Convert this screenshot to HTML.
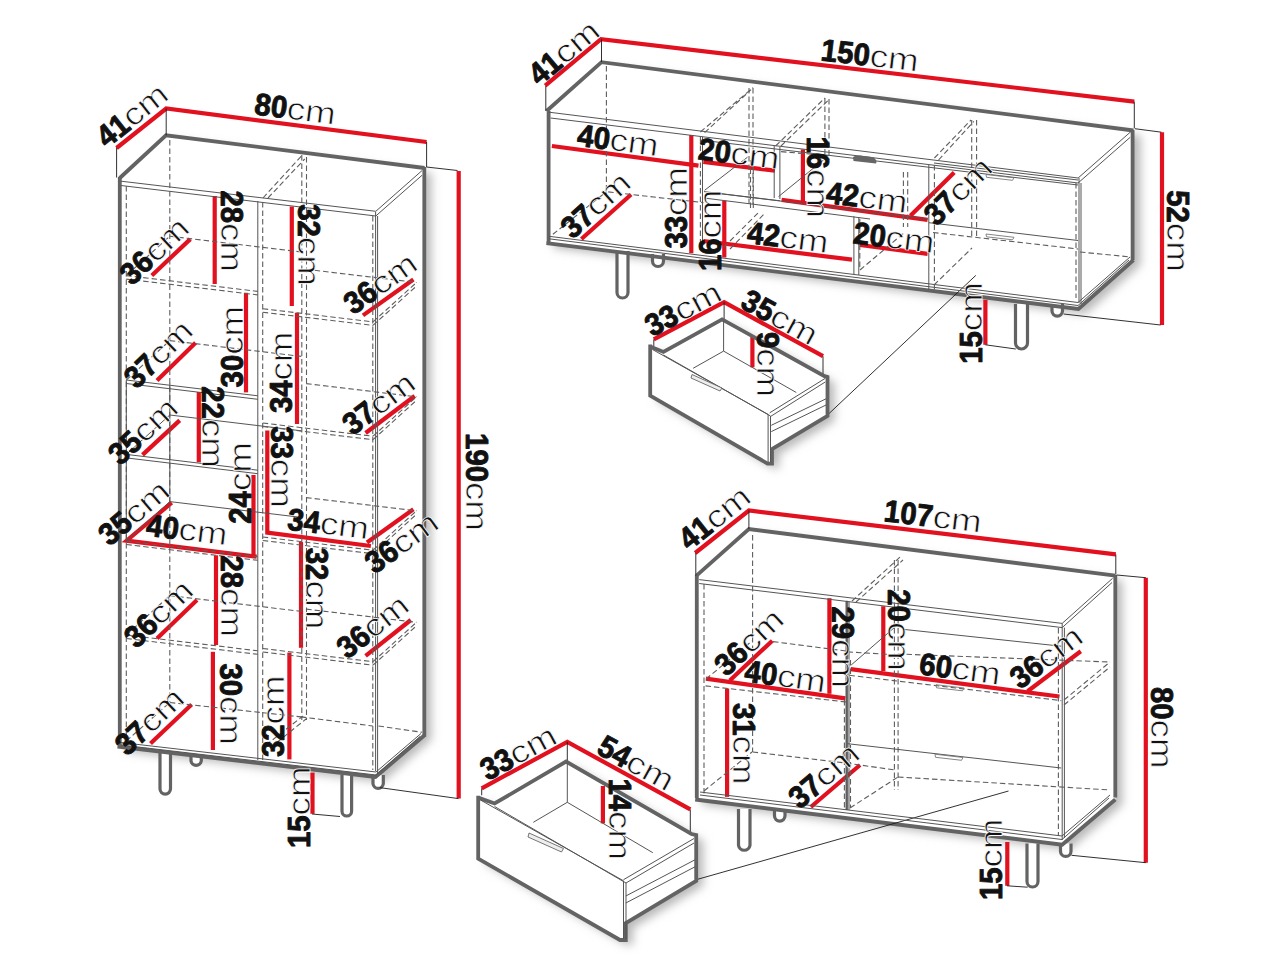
<!DOCTYPE html>
<html><head><meta charset="utf-8"><style>
html,body{margin:0;padding:0;background:#fff;width:1280px;height:960px;overflow:hidden}
svg{display:block}
text{font-family:"Liberation Sans",sans-serif;fill:#111}
.dg{stroke:#111;stroke-width:0.9;stroke-linejoin:round}
.cm{stroke:#fff;stroke-width:0.7}
.r{stroke:#e2111f;stroke-width:4.2;fill:none}
.g{stroke:#636363;stroke-width:3.8;fill:none;stroke-linejoin:miter}
.k{stroke:#1a1a1a;stroke-width:0.9;fill:none}
.t{stroke:#555;stroke-width:1;fill:none}
.d{stroke:#5e5e5e;stroke-width:1.1;stroke-dasharray:5.5 3;fill:none}
.g2{stroke:#6a6a6a;stroke-width:2.3;fill:none}
.lg{stroke:#636363;stroke-width:3.2;fill:#fff}
</style></head><body>
<svg width="1280" height="960" viewBox="0 0 1280 960">
<defs><filter id="bl" x="-20%" y="-20%" width="140%" height="140%"><feGaussianBlur stdDeviation="5"/></filter></defs>
<g filter="url(#bl)" fill="#b8b8b8"><polygon points="126.8,183 173,140.3 431.3,173 431.3,739.5 382.5,782 126.8,751.5"/><polygon points="553.6,116 608.5,67.2 1140.5,135.5 1140.5,265 1085.4,314 553.4,248.1"/><polygon points="702.8,580.6 755.9,534.1 1122.3,580.6 1122.3,804.5 1069.2,849.7 702.2,804.5"/><polygon points="657.2,351.4 670.4,356.9 729.1,324.4 831.5,381.2 834.5,382 834.5,421 779,454 779,468.6 774.5,468.6 657.2,400.6"/><polygon points="485.2,802.6 501.6,808.5 573.1,766.5 698.5,839 703.2,840.1 703.2,885.8 632.8,928 632.8,945 627,945 485.2,863.6"/></g>
<g fill="#fff"><polygon points="119.8,178 166,135.3 424.3,168 424.3,734.5 375.5,777 119.8,746.5"/><polygon points="546.6,111 601.5,62.2 1133.5,130.5 1133.5,260 1078.4,309 546.4,243.1"/><polygon points="695.8,575.6 748.9,529.1 1115.3,575.6 1115.3,799.5 1062.2,844.7 695.2,799.5"/><polygon points="650.2,346.4 663.4,351.9 722.1,319.4 824.5,376.2 827.5,377 827.5,416 772,449 772,463.6 767.5,463.6 650.2,395.6"/><polygon points="478.2,797.6 494.6,803.5 566.1,761.5 691.5,834 696.2,835.1 696.2,880.8 625.8,923 625.8,940 620,940 478.2,858.6"/></g>
<path class="lg" d="M160.0,751.0 V788.8 A5.2,5.2 0 0 0 170.5,788.8 V751.0"/>
<path class="lg" d="M191.0,756.0 V760.9 A5.2,5.2 0 0 0 201.3,760.9 V756.0"/>
<path class="lg" d="M342.0,775.0 V811.2 A4.8,4.8 0 0 0 351.6,811.2 V775.0"/>
<path class="lg" d="M373.0,775.0 V783.9 A5.2,5.2 0 0 0 383.3,783.9 V775.0"/>
<path class="lg" d="M617.0,251.0 V292.5 A5.5,5.5 0 0 0 628.0,292.5 V251.0"/>
<path class="lg" d="M652.5,254.0 V261.0 A5.5,5.5 0 0 0 663.5,261.0 V254.0"/>
<path class="lg" d="M1015.5,304.0 V343.0 A6.0,6.0 0 0 0 1027.5,343.0 V304.0"/>
<path class="lg" d="M1052.0,304.0 V310.8 A5.2,5.2 0 0 0 1062.5,310.8 V304.0"/>
<path class="lg" d="M738.5,809.0 V845.2 A5.8,5.8 0 0 0 750.0,845.2 V809.0"/>
<path class="lg" d="M774.5,811.0 V815.8 A5.2,5.2 0 0 0 785.0,815.8 V811.0"/>
<path class="lg" d="M1027.0,843.5 V881.5 A5.5,5.5 0 0 0 1038.0,881.5 V843.5"/>
<path class="lg" d="M1060.5,843.5 V851.2 A5.2,5.2 0 0 0 1071.0,851.2 V843.5"/>
<polyline class="r" points="116.6,148 166.2,108.5 426.6,142"/>
<polyline class="r" points="458.7,171 458.7,798.6"/>
<polyline class="r" points="214.7,196 214.7,284"/>
<polyline class="r" points="151.8,275.5 190.3,239.1"/>
<polyline class="r" points="291.8,206.5 291.8,306"/>
<polyline class="r" points="363,315.4 413.4,279.5"/>
<polyline class="r" points="246,292.8 246,392.4"/>
<polyline class="r" points="297,312.7 297,424"/>
<polyline class="r" points="157,380.4 195.6,342.7"/>
<polyline class="r" points="365.6,433 414.7,396"/>
<polyline class="r" points="198.8,392 198.8,462.3"/>
<polyline class="r" points="142.5,454.9 179.7,420.4"/>
<polyline class="r" points="253.5,475 253.5,556.6"/>
<polyline class="r" points="171.7,502.7 126.6,540.7 256.7,556.6"/>
<polyline class="r" points="267.3,430.5 267.3,532.7 370.9,546"/>
<polyline class="r" points="367,542.5 413.4,509.3"/>
<polyline class="r" points="216,555.3 216,645"/>
<polyline class="r" points="301,542 301,647.8"/>
<polyline class="r" points="157,638.5 197,600"/>
<polyline class="r" points="365.6,655.8 410.8,620"/>
<polyline class="r" points="212.9,651.8 212.9,750"/>
<polyline class="r" points="289.4,652.6 289.4,759.4"/>
<polyline class="r" points="150.5,743.4 191.6,704.4"/>
<polyline class="r" points="312.5,772.6 312.5,813.8"/>
<polyline class="g" points="119.8,178 166,135.3 424.5,168"/>
<polyline class="g" points="119.8,177 119.8,746.5"/>
<polyline class="g" points="424.3,167 424.3,735"/>
<polyline class="g" points="117.5,746.5 375.5,777 425.4,734.5"/>
<polyline class="k" points="116.6,147.5 116.6,177.5"/>
<polyline class="k" points="166.2,108.5 166.2,135.3"/>
<polyline class="k" points="426.6,142 426.6,167"/>
<polyline class="k" points="426.4,167 457.5,170.5"/>
<polyline class="k" points="379.7,787.6 458.5,798.6"/>
<polyline class="k" points="312,814 340,816.5"/>
<polyline class="t" points="121,181.2 375.8,211.3 422,170.6"/>
<polyline class="t" points="121,185.5 375.8,216 422,175.3"/>
<polyline class="t" points="375.6,212 375.6,771"/>
<polyline class="t" points="377.6,216 377.6,773.5"/>
<polyline class="d" points="372.8,216 372.8,770"/>
<polyline class="d" points="126.3,186 126.3,742"/>
<polyline class="d" points="169.8,140 169.8,705"/>
<polyline class="t" points="257.8,201 257.8,760"/>
<polyline class="d" points="262.7,202 262.7,760"/>
<polyline class="d" points="301.8,155 301.8,720"/>
<polyline class="d" points="306.5,157 306.5,720"/>
<polyline class="d" points="263,198 302.3,155"/>
<polyline class="d" points="268,198 304.7,159"/>
<polyline class="d" points="126.3,275.6 257.8,291.4"/>
<polyline class="d" points="126.3,279.1 257.8,294.9"/>
<polyline class="d" points="169.8,236.2 301.3,252"/>
<polyline class="d" points="126.3,275.6 169.8,236.2"/>
<polyline class="t" points="126.3,380 257.8,395.8"/>
<polyline class="t" points="126.3,383.5 257.8,399.3"/>
<polyline class="d" points="169.8,340.6 301.3,356.4"/>
<polyline class="d" points="126.3,380 169.8,340.6"/>
<polyline class="t" points="126.3,454.4 257.8,470.2"/>
<polyline class="t" points="126.3,457.9 257.8,473.7"/>
<polyline class="t" points="169.8,415 301.3,430.8"/>
<polyline class="t" points="126.3,454.4 169.8,415"/>
<polyline class="d" points="126.3,541 257.8,556.8"/>
<polyline class="d" points="126.3,544.5 257.8,560.3"/>
<polyline class="t" points="169.8,501.6 301.3,517.4"/>
<polyline class="t" points="126.3,541 169.8,501.6"/>
<polyline class="d" points="126.3,635 257.8,650.8"/>
<polyline class="d" points="126.3,638.5 257.8,654.3"/>
<polyline class="d" points="169.8,595.6 301.3,611.4"/>
<polyline class="d" points="126.3,635 169.8,595.6"/>
<polyline class="t" points="126.3,380 126.3,541"/>
<polyline class="t" points="169.8,383 169.8,503"/>
<polyline class="d" points="262.7,308.7 373,321.9"/>
<polyline class="d" points="262.7,312.2 373,325.4"/>
<polyline class="d" points="306.2,269.3 416.5,282.5"/>
<polyline class="d" points="373,321.9 416.5,282.5"/>
<polyline class="d" points="373,325.4 416.5,286"/>
<polyline class="d" points="262.7,423 373,436.2"/>
<polyline class="d" points="262.7,426.5 373,439.7"/>
<polyline class="d" points="306.2,383.6 416.5,396.8"/>
<polyline class="d" points="373,436.2 416.5,396.8"/>
<polyline class="d" points="373,439.7 416.5,400.3"/>
<polyline class="d" points="262.7,537 373,550.2"/>
<polyline class="d" points="262.7,540.5 373,553.7"/>
<polyline class="d" points="306.2,497.6 416.5,510.8"/>
<polyline class="d" points="373,550.2 416.5,510.8"/>
<polyline class="d" points="373,553.7 416.5,514.3"/>
<polyline class="d" points="262.7,648.5 373,661.7"/>
<polyline class="d" points="262.7,652 373,665.2"/>
<polyline class="d" points="306.2,609.1 416.5,622.3"/>
<polyline class="d" points="373,661.7 416.5,622.3"/>
<polyline class="d" points="373,665.2 416.5,625.8"/>
<polyline class="t" points="121,742.5 376,772 421,733.5"/>
<polyline class="t" points="121,745 376,775 420,736.5"/>
<polyline class="d" points="301,716.9 372.8,726"/>
<polyline class="d" points="169.8,702.5 301,716.9"/>
<polyline class="d" points="126.3,741 169.8,702.5"/>
<polyline class="d" points="266,745 303,716"/>
<polyline class="d" points="270,748 306,719"/>
<polyline class="d" points="378.5,726 422,732.3"/>
<polyline class="r" points="545.2,85.7 601,39.2 1134.3,101.6"/>
<polyline class="r" points="1162,132.2 1162,325.1"/>
<polyline class="r" points="551.9,146 698.5,165.6"/>
<polyline class="r" points="691.3,135 691.3,253.2"/>
<polyline class="r" points="703.3,161.9 775,170.7"/>
<polyline class="r" points="802.9,149.4 802.9,201.2"/>
<polyline class="r" points="781.6,199.9 927.6,219.8"/>
<polyline class="r" points="910.4,215.8 954.2,172.5"/>
<polyline class="r" points="581.4,239 631.1,194.5"/>
<polyline class="r" points="724.3,200.7 724.3,257.5"/>
<polyline class="r" points="703.3,241 852,259.7"/>
<polyline class="r" points="860,245 927.6,253.8"/>
<polyline class="r" points="985.4,299.8 985.4,344.8"/>
<polyline class="r" points="653.8,339.3 724.1,302.2 823,356.2"/>
<polyline class="r" points="752.4,336.8 752.4,367.3"/>
<polyline class="g" points="546.6,111 601.5,62.2 1133.5,130.5"/>
<polyline class="g" points="548.6,111 548.6,243"/>
<polyline class="g" points="1132.6,130 1132.6,260"/>
<polyline class="g" points="546.4,243.1 1078.4,309 1133.5,260"/>
<polyline class="k" points="545.8,86 545.8,111"/>
<polyline class="k" points="601.5,39.2 601.5,62"/>
<polyline class="k" points="1134.3,101.6 1134.3,128.2"/>
<polyline class="k" points="1134.8,128.7 1161.4,132.2"/>
<polyline class="k" points="1063.6,314 1160.6,325"/>
<polyline class="k" points="985.4,344.8 1015.8,349"/>
<polyline class="k" points="828,414.5 975.8,275.4"/>
<polyline class="k" points="653.8,339.3 653.8,346"/>
<polyline class="k" points="724.1,302.2 724.1,319.6"/>
<polyline class="k" points="823,356.2 823,377"/>
<polyline class="t" points="549,112.2 1078.1,178 1130.9,131.6"/>
<polyline class="t" points="550.6,118 1078.1,183 1130.2,137.3"/>
<polyline class="t" points="1079,178 1079,303"/>
<polyline class="t" points="1081,183 1081,304"/>
<polyline class="d" points="1076,183 1076,298"/>
<polyline class="d" points="606.4,66 606.4,191.7 703.4,202.6"/>
<polyline class="d" points="552.9,234.3 606.4,191.7"/>
<polyline class="t" points="549,236.3 1078,302.5 1130,257"/>
<polyline class="t" points="549,238.8 1078,305.5 1129,260"/>
<polyline class="d" points="700.4,137 700.4,250"/>
<polyline class="t" points="702.5,137 702.5,250"/>
<polyline class="d" points="749,88 749,205"/>
<polyline class="d" points="753,88 753,205"/>
<polyline class="d" points="700.4,132 753,87.6"/>
<polyline class="d" points="704.6,132.6 751,89.7"/>
<polyline class="t" points="774.2,146 774.2,198"/>
<polyline class="t" points="779.9,147 779.9,199"/>
<polyline class="t" points="704.6,190.3 747.5,157.2"/>
<polyline class="t" points="704,191.6 780,200.8"/>
<polyline class="t" points="704,198 870,219"/>
<polyline class="d" points="775.6,146 824.9,98"/>
<polyline class="d" points="781,146 829,99.5"/>
<polyline class="d" points="824.9,98 824.9,160"/>
<polyline class="d" points="829,99 829,160"/>
<polyline class="d" points="781,151.6 829,155.8"/>
<polyline class="t" points="778.5,196.6 823.5,160"/>
<polyline class="t" points="700,140 1078,185"/>
<polyline class="t" points="721,193.8 928,219"/>
<polyline class="t" points="853.9,216.3 853.9,274"/>
<polyline class="t" points="858.8,217 858.8,275"/>
<polyline class="d" points="750.5,160 750.5,209"/>
<polyline class="d" points="753.3,160 753.3,209"/>
<polyline class="d" points="724,247 760,211"/>
<polyline class="d" points="730,249 765,213"/>
<polyline class="t" points="928.8,165 928.8,290"/>
<polyline class="d" points="934.4,165 934.4,290"/>
<polyline class="d" points="903.4,172 903.4,227"/>
<polyline class="d" points="907.7,172 907.7,227"/>
<polyline class="d" points="859.8,219 859.8,270"/>
<polyline class="d" points="971.7,120 971.7,238"/>
<polyline class="d" points="976.6,120 976.6,238"/>
<polyline class="d" points="934.4,158 971,120"/>
<polyline class="d" points="938.6,160 973.8,121.4"/>
<polyline class="t" points="928.8,222.7 1078,240.5"/>
<polyline class="d" points="933,232.5 1078,249"/>
<polyline class="d" points="934,285 972,248"/>
<polyline class="d" points="1080,252 1131,257"/>
<polyline class="d" points="860,270 905,232"/>
<polyline class="t" points="934,163 1078,180"/>
<polyline class="r" points="695.2,553 748.9,510.5 1115.8,554.4"/>
<polyline class="r" points="1145.8,577.7 1145.8,862.7"/>
<polyline class="r" points="729.8,680.5 772.3,640.7"/>
<polyline class="r" points="705.9,678.7 845.3,698.3"/>
<polyline class="r" points="829.4,598.2 829.4,693.8"/>
<polyline class="r" points="883.3,606.2 883.3,671.2"/>
<polyline class="r" points="850.6,669.1 1059.5,696.5"/>
<polyline class="r" points="1027.6,691.2 1080.8,651.3"/>
<polyline class="r" points="727.1,688.5 727.1,796.9"/>
<polyline class="r" points="810.8,807 860,765"/>
<polyline class="r" points="1007.3,842 1007.3,885.8"/>
<polyline class="r" points="481.7,788.3 567.3,741.9 690.3,809.4"/>
<polyline class="r" points="602.9,786 602.9,823.4"/>
<polyline class="g" points="696.5,575.6 748.9,529.1 1115.3,575.6"/>
<polyline class="g" points="696.8,575 696.8,798"/>
<polyline class="g" points="1115.3,575 1115.3,797.5"/>
<polyline class="g" points="695.2,799.5 1062.2,844.7 1115.3,799.5"/>
<polyline class="g2" points="847,600.8 847,810"/>
<polyline class="d" points="844.4,700 844.4,808"/>
<polyline class="d" points="850.5,660 850.5,808"/>
<polyline class="k" points="695.8,553 695.8,575.6"/>
<polyline class="k" points="748.9,510.5 748.9,529.1"/>
<polyline class="k" points="1115.8,554.4 1115.8,574.3"/>
<polyline class="k" points="1116.6,575 1145.8,577.7"/>
<polyline class="k" points="1071.5,855.3 1145.8,862.7"/>
<polyline class="k" points="1007,885.8 1027.6,887.2"/>
<polyline class="k" points="696.2,879.7 1008.5,791"/>
<polyline class="k" points="481.7,788.3 481.7,795.3"/>
<polyline class="k" points="567.3,741.9 567.3,762.5"/>
<polyline class="k" points="690.3,809.4 690.3,835"/>
<polyline class="t" points="699.2,579.6 1062.2,623.4 1112.6,578.3"/>
<polyline class="t" points="699.2,583.5 1062.2,627.6 1112,582.5"/>
<polyline class="t" points="1062.2,623.4 1062.2,840"/>
<polyline class="t" points="1064.4,627.6 1064.4,838"/>
<polyline class="d" points="1058.4,628 1058.4,836"/>
<polyline class="d" points="704,584 704,795"/>
<polyline class="d" points="752.6,535 752.6,752"/>
<polyline class="t" points="846.1,601 846.1,810"/>
<polyline class="t" points="849,601.5 849,810"/>
<polyline class="d" points="852,601 900,557"/>
<polyline class="d" points="856,602 903,560"/>
<polyline class="d" points="894.4,560 894.4,790"/>
<polyline class="d" points="898.1,560 898.1,790"/>
<polyline class="d" points="773,641.6 846,651"/>
<polyline class="d" points="705.5,685.9 846,702"/>
<polyline class="d" points="706,679 752,641"/>
<polyline class="d" points="752.6,752 846,763"/>
<polyline class="d" points="704,791 752,752"/>
<polyline class="d" points="846,763 895,770"/>
<polyline class="t" points="903.7,629.4 1061.2,646.2"/>
<polyline class="t" points="851.2,665 894.4,627.5"/>
<polyline class="d" points="847.5,651.9 894.4,654.7"/>
<polyline class="d" points="849.4,675.3 1061.2,700.6"/>
<polyline class="d" points="1064,700 1110,662"/>
<polyline class="d" points="1064,705 1110,667"/>
<polyline class="d" points="898,654 1110,662"/>
<polyline class="t" points="847.5,743.7 1061.2,768"/>
<polyline class="d" points="898,777 1110,790"/>
<polyline class="d" points="850,808 898,777"/>
<polyline class="t" points="700,792 1062,836 1110,795"/>
<polyline class="t" points="700,795 1062,839.5 1109,798"/>
<polyline class="g" points="650.2,346.4 663.4,351.9 722.1,319.4 824.5,376.2 827.5,377 827.5,416 772,449 772,463.6 767.5,463.6 650.2,395.6 650.2,344.6"/>
<polyline class="t" points="652.5,349.5 768.1,414.4 768.1,462"/>
<polyline class="t" points="663.4,355 770.5,416 770.5,462"/>
<polyline class="t" points="769.7,412.8 825.2,378.4"/>
<polyline class="t" points="770.5,416.5 825.2,382"/>
<polyline class="t" points="771.3,425.3 826,398.8"/>
<polyline class="t" points="771.3,431.6 826,405"/>
<polyline class="t" points="723.6,321 723.6,351.1 693.1,368.3"/>
<polyline class="t" points="723.6,351.1 796.3,392.5"/>
<polyline class="g" points="478.2,797.6 494.6,803.5 566.1,761.5 691.5,834 696.2,835.1 696.2,880.8 625.8,923 625.8,940 620,940 478.2,858.6 478.2,795.8"/>
<polyline class="t" points="480.5,800 623.5,880.8 623.5,939"/>
<polyline class="t" points="494.6,806.5 626,883 626,939"/>
<polyline class="t" points="623.5,879.7 694,838.5"/>
<polyline class="t" points="626,883 694,843"/>
<polyline class="t" points="625.8,896 695,859.8"/>
<polyline class="t" points="625.8,903 695,866.8"/>
<polyline class="t" points="567.3,763 567.3,802.3 533.3,822.3"/>
<polyline class="t" points="567.3,802.3 652.8,852.7"/>
<path fill="#666" d="M853,157 Q855,155 860,155.5 L872,157 Q876,158 876.5,162 L876,163.5 L853.5,161 Z"/>
<path fill="none" stroke="#777" stroke-width="0.9" d="M986.0,174.5 l28,3.3 l-1.5,2.5 l-26,-3 z"/>
<path fill="none" stroke="#777" stroke-width="0.9" d="M986.0,234.0 l28,3.3 l-1.5,2.5 l-26,-3 z"/>
<path fill="none" stroke="#777" stroke-width="0.9" d="M936.0,684.7 l28,3.3 l-1.5,2.8 l-26,-3 z"/>
<path fill="none" stroke="#777" stroke-width="0.9" d="M935.0,754.2 l28,3.3 l-1.5,2.8 l-26,-3 z"/>
<path fill="#eee" stroke="#666" stroke-width="0.9" d="M692,374.5 L722,388 L720,391 L691,378 Z"/>
<path fill="#eee" stroke="#666" stroke-width="0.9" d="M529,833 L563.5,848.5 L561.5,852 L528,837 Z"/>
<g transform="translate(106.7 148.8) rotate(-38.5)" font-size="31"><text class="dg" font-weight="bold" textLength="32.6" lengthAdjust="spacingAndGlyphs">41</text><text class="cm" x="32.6" textLength="49" lengthAdjust="spacingAndGlyphs">cm</text></g>
<g transform="translate(253.5 114.2) rotate(7.4)" font-size="31"><text class="dg" font-weight="bold" textLength="32.6" lengthAdjust="spacingAndGlyphs">80</text><text class="cm" x="32.6" textLength="49" lengthAdjust="spacingAndGlyphs">cm</text></g>
<g transform="translate(221.2 190.4) rotate(90)" font-size="31"><text class="dg" font-weight="bold" textLength="32.6" lengthAdjust="spacingAndGlyphs">28</text><text class="cm" x="32.6" textLength="49" lengthAdjust="spacingAndGlyphs">cm</text></g>
<g transform="translate(132 286.5) rotate(-43.4)" font-size="31"><text class="dg" font-weight="bold" textLength="32.6" lengthAdjust="spacingAndGlyphs">36</text><text class="cm" x="32.6" textLength="49" lengthAdjust="spacingAndGlyphs">cm</text></g>
<g transform="translate(297.5 204.2) rotate(90)" font-size="31"><text class="dg" font-weight="bold" textLength="32.6" lengthAdjust="spacingAndGlyphs">32</text><text class="cm" x="32.6" textLength="49" lengthAdjust="spacingAndGlyphs">cm</text></g>
<g transform="translate(353.2 315.5) rotate(-35.5)" font-size="31"><text class="dg" font-weight="bold" textLength="32.6" lengthAdjust="spacingAndGlyphs">36</text><text class="cm" x="32.6" textLength="49" lengthAdjust="spacingAndGlyphs">cm</text></g>
<g transform="translate(136.5 389.9) rotate(-44.3)" font-size="31"><text class="dg" font-weight="bold" textLength="32.6" lengthAdjust="spacingAndGlyphs">37</text><text class="cm" x="32.6" textLength="49" lengthAdjust="spacingAndGlyphs">cm</text></g>
<g transform="translate(242.5 387.4) rotate(-90)" font-size="31"><text class="dg" font-weight="bold" textLength="32.6" lengthAdjust="spacingAndGlyphs">30</text><text class="cm" x="32.6" textLength="49" lengthAdjust="spacingAndGlyphs">cm</text></g>
<g transform="translate(291.6 413.1) rotate(-90)" font-size="31"><text class="dg" font-weight="bold" textLength="32.6" lengthAdjust="spacingAndGlyphs">34</text><text class="cm" x="32.6" textLength="49" lengthAdjust="spacingAndGlyphs">cm</text></g>
<g transform="translate(352.5 436.3) rotate(-37)" font-size="31"><text class="dg" font-weight="bold" textLength="32.6" lengthAdjust="spacingAndGlyphs">37</text><text class="cm" x="32.6" textLength="49" lengthAdjust="spacingAndGlyphs">cm</text></g>
<g transform="translate(201.9 386.3) rotate(90)" font-size="31"><text class="dg" font-weight="bold" textLength="32.6" lengthAdjust="spacingAndGlyphs">22</text><text class="cm" x="32.6" textLength="49" lengthAdjust="spacingAndGlyphs">cm</text></g>
<g transform="translate(120.3 466.5) rotate(-42.8)" font-size="31"><text class="dg" font-weight="bold" textLength="32.6" lengthAdjust="spacingAndGlyphs">35</text><text class="cm" x="32.6" textLength="49" lengthAdjust="spacingAndGlyphs">cm</text></g>
<g transform="translate(251.1 523.7) rotate(-90)" font-size="31"><text class="dg" font-weight="bold" textLength="32.6" lengthAdjust="spacingAndGlyphs">24</text><text class="cm" x="32.6" textLength="49" lengthAdjust="spacingAndGlyphs">cm</text></g>
<g transform="translate(270.9 426.2) rotate(90)" font-size="31"><text class="dg" font-weight="bold" textLength="32.6" lengthAdjust="spacingAndGlyphs">33</text><text class="cm" x="32.6" textLength="49" lengthAdjust="spacingAndGlyphs">cm</text></g>
<g transform="translate(109.5 546.9) rotate(-40.1)" font-size="31"><text class="dg" font-weight="bold" textLength="32.6" lengthAdjust="spacingAndGlyphs">35</text><text class="cm" x="32.6" textLength="49" lengthAdjust="spacingAndGlyphs">cm</text></g>
<g transform="translate(145.2 535.4) rotate(7)" font-size="31"><text class="dg" font-weight="bold" textLength="32.6" lengthAdjust="spacingAndGlyphs">40</text><text class="cm" x="32.6" textLength="49" lengthAdjust="spacingAndGlyphs">cm</text></g>
<g transform="translate(286.6 529.4) rotate(7)" font-size="31"><text class="dg" font-weight="bold" textLength="32.6" lengthAdjust="spacingAndGlyphs">34</text><text class="cm" x="32.6" textLength="49" lengthAdjust="spacingAndGlyphs">cm</text></g>
<g transform="translate(374.6 574.7) rotate(-35.6)" font-size="31"><text class="dg" font-weight="bold" textLength="32.6" lengthAdjust="spacingAndGlyphs">36</text><text class="cm" x="32.6" textLength="49" lengthAdjust="spacingAndGlyphs">cm</text></g>
<g transform="translate(221.2 555.5) rotate(90)" font-size="31"><text class="dg" font-weight="bold" textLength="32.6" lengthAdjust="spacingAndGlyphs">28</text><text class="cm" x="32.6" textLength="49" lengthAdjust="spacingAndGlyphs">cm</text></g>
<g transform="translate(306 547.8) rotate(90)" font-size="31"><text class="dg" font-weight="bold" textLength="32.6" lengthAdjust="spacingAndGlyphs">32</text><text class="cm" x="32.6" textLength="49" lengthAdjust="spacingAndGlyphs">cm</text></g>
<g transform="translate(136.5 649.4) rotate(-43.9)" font-size="31"><text class="dg" font-weight="bold" textLength="32.6" lengthAdjust="spacingAndGlyphs">36</text><text class="cm" x="32.6" textLength="49" lengthAdjust="spacingAndGlyphs">cm</text></g>
<g transform="translate(347.3 660) rotate(-38.4)" font-size="31"><text class="dg" font-weight="bold" textLength="32.6" lengthAdjust="spacingAndGlyphs">36</text><text class="cm" x="32.6" textLength="49" lengthAdjust="spacingAndGlyphs">cm</text></g>
<g transform="translate(127.3 757.1) rotate(-43.5)" font-size="31"><text class="dg" font-weight="bold" textLength="32.6" lengthAdjust="spacingAndGlyphs">37</text><text class="cm" x="32.6" textLength="49" lengthAdjust="spacingAndGlyphs">cm</text></g>
<g transform="translate(219.9 663.4) rotate(90)" font-size="31"><text class="dg" font-weight="bold" textLength="32.6" lengthAdjust="spacingAndGlyphs">30</text><text class="cm" x="32.6" textLength="49" lengthAdjust="spacingAndGlyphs">cm</text></g>
<g transform="translate(283.7 757) rotate(-90)" font-size="31"><text class="dg" font-weight="bold" textLength="32.6" lengthAdjust="spacingAndGlyphs">32</text><text class="cm" x="32.6" textLength="49" lengthAdjust="spacingAndGlyphs">cm</text></g>
<g transform="translate(309.5 848) rotate(-90)" font-size="31"><text class="dg" font-weight="bold" textLength="32.6" lengthAdjust="spacingAndGlyphs">15</text><text class="cm" x="32.6" textLength="49" lengthAdjust="spacingAndGlyphs">cm</text></g>
<g transform="translate(466 433.1) rotate(90)" font-size="31"><text class="dg" font-weight="bold" textLength="48.9" lengthAdjust="spacingAndGlyphs">190</text><text class="cm" x="48.9" textLength="49" lengthAdjust="spacingAndGlyphs">cm</text></g>
<g transform="translate(539.3 86.6) rotate(-39.8)" font-size="31"><text class="dg" font-weight="bold" textLength="32.6" lengthAdjust="spacingAndGlyphs">41</text><text class="cm" x="32.6" textLength="49" lengthAdjust="spacingAndGlyphs">cm</text></g>
<g transform="translate(820.1 60.2) rotate(6.7)" font-size="31"><text class="dg" font-weight="bold" textLength="48.9" lengthAdjust="spacingAndGlyphs">150</text><text class="cm" x="48.9" textLength="49" lengthAdjust="spacingAndGlyphs">cm</text></g>
<g transform="translate(576.3 145.6) rotate(7.5)" font-size="31"><text class="dg" font-weight="bold" textLength="32.6" lengthAdjust="spacingAndGlyphs">40</text><text class="cm" x="32.6" textLength="49" lengthAdjust="spacingAndGlyphs">cm</text></g>
<g transform="translate(697.2 159.3) rotate(7)" font-size="31"><text class="dg" font-weight="bold" textLength="32.6" lengthAdjust="spacingAndGlyphs">20</text><text class="cm" x="32.6" textLength="49" lengthAdjust="spacingAndGlyphs">cm</text></g>
<g transform="translate(807 136.5) rotate(90)" font-size="31"><text class="dg" font-weight="bold" textLength="32.6" lengthAdjust="spacingAndGlyphs">16</text><text class="cm" x="32.6" textLength="49" lengthAdjust="spacingAndGlyphs">cm</text></g>
<g transform="translate(825.2 203) rotate(7)" font-size="31"><text class="dg" font-weight="bold" textLength="32.6" lengthAdjust="spacingAndGlyphs">42</text><text class="cm" x="32.6" textLength="49" lengthAdjust="spacingAndGlyphs">cm</text></g>
<g transform="translate(936.5 227.3) rotate(-44.7)" font-size="31"><text class="dg" font-weight="bold" textLength="32.6" lengthAdjust="spacingAndGlyphs">37</text><text class="cm" x="32.6" textLength="49" lengthAdjust="spacingAndGlyphs">cm</text></g>
<g transform="translate(572.4 240.1) rotate(-42)" font-size="31"><text class="dg" font-weight="bold" textLength="32.6" lengthAdjust="spacingAndGlyphs">37</text><text class="cm" x="32.6" textLength="49" lengthAdjust="spacingAndGlyphs">cm</text></g>
<g transform="translate(686.5 248.6) rotate(-90)" font-size="31"><text class="dg" font-weight="bold" textLength="32.6" lengthAdjust="spacingAndGlyphs">33</text><text class="cm" x="32.6" textLength="49" lengthAdjust="spacingAndGlyphs">cm</text></g>
<g transform="translate(721 271.1) rotate(-90)" font-size="31"><text class="dg" font-weight="bold" textLength="32.6" lengthAdjust="spacingAndGlyphs">16</text><text class="cm" x="32.6" textLength="49" lengthAdjust="spacingAndGlyphs">cm</text></g>
<g transform="translate(746.2 243.1) rotate(7)" font-size="31"><text class="dg" font-weight="bold" textLength="32.6" lengthAdjust="spacingAndGlyphs">42</text><text class="cm" x="32.6" textLength="49" lengthAdjust="spacingAndGlyphs">cm</text></g>
<g transform="translate(852.2 243.2) rotate(7)" font-size="31"><text class="dg" font-weight="bold" textLength="32.6" lengthAdjust="spacingAndGlyphs">20</text><text class="cm" x="32.6" textLength="49" lengthAdjust="spacingAndGlyphs">cm</text></g>
<g transform="translate(1166.5 190.2) rotate(90)" font-size="31"><text class="dg" font-weight="bold" textLength="32.6" lengthAdjust="spacingAndGlyphs">52</text><text class="cm" x="32.6" textLength="49" lengthAdjust="spacingAndGlyphs">cm</text></g>
<g transform="translate(981.7 363.8) rotate(-90)" font-size="31"><text class="dg" font-weight="bold" textLength="32.6" lengthAdjust="spacingAndGlyphs">15</text><text class="cm" x="32.6" textLength="49" lengthAdjust="spacingAndGlyphs">cm</text></g>
<g transform="translate(651.9 337.3) rotate(-27.8)" font-size="31"><text class="dg" font-weight="bold" textLength="32.6" lengthAdjust="spacingAndGlyphs">33</text><text class="cm" x="32.6" textLength="49" lengthAdjust="spacingAndGlyphs">cm</text></g>
<g transform="translate(739.1 307.1) rotate(28.6)" font-size="31"><text class="dg" font-weight="bold" textLength="32.6" lengthAdjust="spacingAndGlyphs">35</text><text class="cm" x="32.6" textLength="49" lengthAdjust="spacingAndGlyphs">cm</text></g>
<g transform="translate(756.6 331.9) rotate(90)" font-size="31"><text class="dg" font-weight="bold" textLength="16.3" lengthAdjust="spacingAndGlyphs">9</text><text class="cm" x="16.3" textLength="49" lengthAdjust="spacingAndGlyphs">cm</text></g>
<g transform="translate(689.1 551.2) rotate(-38.4)" font-size="31"><text class="dg" font-weight="bold" textLength="32.6" lengthAdjust="spacingAndGlyphs">41</text><text class="cm" x="32.6" textLength="49" lengthAdjust="spacingAndGlyphs">cm</text></g>
<g transform="translate(883.1 521.1) rotate(6.8)" font-size="31"><text class="dg" font-weight="bold" textLength="48.9" lengthAdjust="spacingAndGlyphs">107</text><text class="cm" x="48.9" textLength="49" lengthAdjust="spacingAndGlyphs">cm</text></g>
<g transform="translate(726.4 677.5) rotate(-43.1)" font-size="31"><text class="dg" font-weight="bold" textLength="32.6" lengthAdjust="spacingAndGlyphs">36</text><text class="cm" x="32.6" textLength="49" lengthAdjust="spacingAndGlyphs">cm</text></g>
<g transform="translate(743.6 681.2) rotate(8)" font-size="31"><text class="dg" font-weight="bold" textLength="32.6" lengthAdjust="spacingAndGlyphs">40</text><text class="cm" x="32.6" textLength="49" lengthAdjust="spacingAndGlyphs">cm</text></g>
<g transform="translate(831.7 606.5) rotate(90)" font-size="31"><text class="dg" font-weight="bold" textLength="32.6" lengthAdjust="spacingAndGlyphs">29</text><text class="cm" x="32.6" textLength="49" lengthAdjust="spacingAndGlyphs">cm</text></g>
<g transform="translate(888.1 589.3) rotate(90)" font-size="31"><text class="dg" font-weight="bold" textLength="32.6" lengthAdjust="spacingAndGlyphs">20</text><text class="cm" x="32.6" textLength="49" lengthAdjust="spacingAndGlyphs">cm</text></g>
<g transform="translate(918.3 674.1) rotate(7.5)" font-size="31"><text class="dg" font-weight="bold" textLength="32.6" lengthAdjust="spacingAndGlyphs">60</text><text class="cm" x="32.6" textLength="49" lengthAdjust="spacingAndGlyphs">cm</text></g>
<g transform="translate(1020 689.9) rotate(-36.9)" font-size="31"><text class="dg" font-weight="bold" textLength="32.6" lengthAdjust="spacingAndGlyphs">36</text><text class="cm" x="32.6" textLength="49" lengthAdjust="spacingAndGlyphs">cm</text></g>
<g transform="translate(1151.4 687) rotate(90)" font-size="31"><text class="dg" font-weight="bold" textLength="32.6" lengthAdjust="spacingAndGlyphs">80</text><text class="cm" x="32.6" textLength="49" lengthAdjust="spacingAndGlyphs">cm</text></g>
<g transform="translate(732.7 703) rotate(90)" font-size="31"><text class="dg" font-weight="bold" textLength="32.6" lengthAdjust="spacingAndGlyphs">31</text><text class="cm" x="32.6" textLength="49" lengthAdjust="spacingAndGlyphs">cm</text></g>
<g transform="translate(799.8 810) rotate(-40.5)" font-size="31"><text class="dg" font-weight="bold" textLength="32.6" lengthAdjust="spacingAndGlyphs">37</text><text class="cm" x="32.6" textLength="49" lengthAdjust="spacingAndGlyphs">cm</text></g>
<g transform="translate(1001.9 900.1) rotate(-90)" font-size="31"><text class="dg" font-weight="bold" textLength="32.6" lengthAdjust="spacingAndGlyphs">15</text><text class="cm" x="32.6" textLength="49" lengthAdjust="spacingAndGlyphs">cm</text></g>
<g transform="translate(487.4 781.2) rotate(-28.5)" font-size="31"><text class="dg" font-weight="bold" textLength="32.6" lengthAdjust="spacingAndGlyphs">33</text><text class="cm" x="32.6" textLength="49" lengthAdjust="spacingAndGlyphs">cm</text></g>
<g transform="translate(595.3 752.8) rotate(28.8)" font-size="31"><text class="dg" font-weight="bold" textLength="32.6" lengthAdjust="spacingAndGlyphs">54</text><text class="cm" x="32.6" textLength="49" lengthAdjust="spacingAndGlyphs">cm</text></g>
<g transform="translate(609 778.5) rotate(90)" font-size="31"><text class="dg" font-weight="bold" textLength="32.6" lengthAdjust="spacingAndGlyphs">14</text><text class="cm" x="32.6" textLength="49" lengthAdjust="spacingAndGlyphs">cm</text></g>
</svg></body></html>
